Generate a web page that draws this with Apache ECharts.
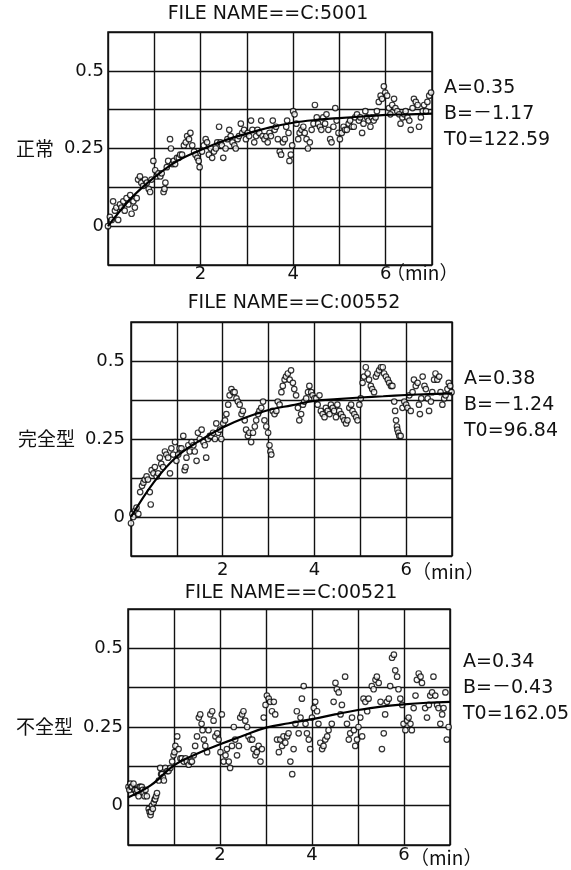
<!DOCTYPE html>
<html>
<head>
<meta charset="utf-8">
<script src="https://cdn.jsdelivr.net/npm/echarts@6/dist/echarts.min.js"></script>
<style>
html,body{margin:0;padding:0;background:#fff;}
#chart{width:571px;height:870px;}
</style>
</head>
<body>
<div id="chart"></div>
<script>
// fitted curve sample times (min)
var fitTimes = [0,0.5,1,1.5,2,2.5,3,3.5,4,4.5,5,5.5,6,6.5,7];

// 正常 FILE NAME==C:5001  [min, value]
var normalPts = [[0.00,0.00],[0.04,0.03],[0.08,0.02],[0.11,0.08],[0.15,0.05],[0.18,0.06],[0.22,0.02],[0.26,0.07],[0.29,0.06],[0.33,0.08],[0.36,0.05],[0.40,0.09],[0.44,0.07],[0.48,0.10],[0.51,0.04],[0.55,0.08],[0.58,0.06],[0.62,0.09],[0.65,0.15],[0.69,0.16],[0.72,0.14],[0.76,0.13],[0.80,0.15],[0.84,0.14],[0.88,0.12],[0.91,0.11],[0.94,0.15],[0.98,0.21],[1.02,0.18],[1.05,0.16],[1.09,0.17],[1.13,0.16],[1.16,0.17],[1.20,0.11],[1.22,0.12],[1.24,0.14],[1.27,0.19],[1.30,0.21],[1.34,0.28],[1.36,0.25],[1.39,0.20],[1.42,0.21],[1.45,0.20],[1.49,0.22],[1.53,0.22],[1.56,0.23],[1.60,0.23],[1.64,0.26],[1.68,0.27],[1.71,0.29],[1.75,0.28],[1.78,0.30],[1.82,0.26],[1.86,0.24],[1.89,0.23],[1.93,0.22],[1.96,0.21],[1.98,0.19],[2.03,0.24],[2.07,0.26],[2.11,0.28],[2.14,0.27],[2.18,0.23],[2.22,0.25],[2.25,0.22],[2.29,0.24],[2.33,0.25],[2.36,0.27],[2.40,0.32],[2.43,0.27],[2.46,0.26],[2.49,0.22],[2.54,0.25],[2.58,0.28],[2.62,0.31],[2.65,0.29],[2.69,0.27],[2.73,0.26],[2.76,0.25],[2.80,0.28],[2.83,0.29],[2.87,0.33],[2.90,0.30],[2.94,0.31],[2.98,0.28],[3.02,0.30],[3.05,0.29],[3.09,0.34],[3.12,0.31],[3.16,0.27],[3.20,0.29],[3.23,0.31],[3.27,0.30],[3.31,0.34],[3.34,0.29],[3.38,0.28],[3.42,0.29],[3.45,0.27],[3.49,0.30],[3.52,0.29],[3.56,0.34],[3.60,0.31],[3.63,0.32],[3.67,0.28],[3.71,0.24],[3.74,0.23],[3.78,0.27],[3.82,0.28],[3.85,0.32],[3.87,0.34],[3.90,0.30],[3.92,0.21],[3.95,0.23],[3.98,0.26],[4.00,0.37],[4.03,0.36],[4.07,0.33],[4.11,0.28],[4.14,0.30],[4.18,0.31],[4.22,0.32],[4.25,0.30],[4.29,0.28],[4.32,0.25],[4.36,0.27],[4.40,0.31],[4.44,0.33],[4.47,0.39],[4.51,0.35],[4.54,0.33],[4.58,0.32],[4.61,0.31],[4.65,0.35],[4.69,0.33],[4.72,0.36],[4.76,0.31],[4.80,0.28],[4.83,0.27],[4.87,0.32],[4.91,0.38],[4.94,0.34],[4.98,0.30],[5.01,0.28],[5.05,0.30],[5.09,0.32],[5.12,0.31],[5.16,0.31],[5.20,0.33],[5.23,0.34],[5.27,0.32],[5.31,0.32],[5.34,0.35],[5.38,0.36],[5.42,0.34],[5.45,0.35],[5.49,0.30],[5.52,0.33],[5.56,0.37],[5.60,0.35],[5.63,0.34],[5.67,0.32],[5.70,0.35],[5.74,0.34],[5.78,0.35],[5.81,0.37],[5.85,0.40],[5.89,0.42],[5.92,0.41],[5.96,0.45],[5.99,0.43],[6.03,0.42],[6.07,0.38],[6.10,0.36],[6.14,0.39],[6.18,0.41],[6.21,0.38],[6.25,0.37],[6.29,0.36],[6.32,0.33],[6.36,0.35],[6.40,0.36],[6.43,0.37],[6.47,0.35],[6.51,0.34],[6.54,0.31],[6.58,0.38],[6.61,0.41],[6.65,0.40],[6.69,0.39],[6.72,0.32],[6.76,0.35],[6.80,0.37],[6.83,0.39],[6.87,0.37],[6.90,0.40],[6.94,0.42],[6.98,0.43]];
var normalFit = [0,0.09,0.157,0.21,0.245,0.275,0.298,0.318,0.333,0.342,0.348,0.353,0.358,0.36,0.362];

// 完全型 FILE NAME==C:00552
var completePts = [[0.00,-0.02],[0.03,0.01],[0.05,0.00],[0.09,0.02],[0.12,0.03],[0.16,0.01],[0.20,0.08],[0.24,0.10],[0.27,0.11],[0.30,0.12],[0.34,0.13],[0.37,0.12],[0.41,0.08],[0.43,0.04],[0.45,0.15],[0.49,0.14],[0.52,0.16],[0.56,0.13],[0.59,0.14],[0.63,0.19],[0.66,0.17],[0.70,0.16],[0.74,0.21],[0.77,0.20],[0.81,0.19],[0.85,0.14],[0.88,0.22],[0.92,0.20],[0.96,0.24],[0.99,0.18],[1.03,0.20],[1.06,0.22],[1.10,0.22],[1.14,0.26],[1.17,0.15],[1.19,0.16],[1.21,0.19],[1.25,0.23],[1.28,0.21],[1.32,0.24],[1.36,0.23],[1.39,0.21],[1.43,0.18],[1.46,0.27],[1.50,0.25],[1.54,0.28],[1.58,0.24],[1.61,0.23],[1.64,0.19],[1.68,0.25],[1.72,0.26],[1.75,0.26],[1.79,0.27],[1.83,0.25],[1.86,0.30],[1.90,0.27],[1.94,0.28],[1.97,0.25],[2.01,0.30],[2.05,0.31],[2.08,0.33],[2.12,0.36],[2.15,0.39],[2.19,0.41],[2.23,0.40],[2.26,0.40],[2.30,0.38],[2.33,0.37],[2.37,0.36],[2.41,0.33],[2.44,0.34],[2.48,0.31],[2.51,0.28],[2.55,0.26],[2.58,0.27],[2.62,0.24],[2.66,0.27],[2.70,0.29],[2.73,0.31],[2.77,0.33],[2.80,0.34],[2.84,0.35],[2.88,0.37],[2.91,0.31],[2.95,0.29],[2.99,0.27],[3.02,0.23],[3.04,0.21],[3.06,0.20],[3.09,0.34],[3.13,0.33],[3.17,0.34],[3.20,0.37],[3.24,0.36],[3.28,0.40],[3.31,0.42],[3.35,0.44],[3.38,0.45],[3.42,0.46],[3.46,0.44],[3.49,0.47],[3.53,0.43],[3.56,0.41],[3.60,0.39],[3.64,0.35],[3.67,0.31],[3.71,0.33],[3.75,0.36],[3.78,0.37],[3.82,0.38],[3.86,0.40],[3.89,0.42],[3.93,0.40],[3.96,0.39],[4.00,0.38],[4.04,0.38],[4.07,0.36],[4.11,0.39],[4.14,0.34],[4.18,0.33],[4.22,0.32],[4.25,0.35],[4.29,0.34],[4.33,0.33],[4.36,0.36],[4.40,0.35],[4.43,0.34],[4.47,0.32],[4.50,0.36],[4.54,0.34],[4.58,0.33],[4.62,0.32],[4.65,0.31],[4.69,0.30],[4.72,0.31],[4.76,0.35],[4.80,0.36],[4.83,0.34],[4.87,0.33],[4.91,0.32],[4.94,0.31],[4.98,0.36],[5.01,0.38],[5.05,0.43],[5.08,0.45],[5.12,0.48],[5.16,0.46],[5.19,0.44],[5.23,0.42],[5.26,0.41],[5.30,0.40],[5.34,0.45],[5.37,0.46],[5.41,0.47],[5.45,0.48],[5.49,0.48],[5.52,0.46],[5.56,0.45],[5.60,0.44],[5.63,0.43],[5.67,0.42],[5.70,0.42],[5.74,0.37],[5.76,0.34],[5.78,0.31],[5.80,0.29],[5.81,0.28],[5.83,0.27],[5.85,0.26],[5.88,0.26],[5.92,0.35],[5.96,0.37],[6.00,0.36],[6.03,0.35],[6.07,0.39],[6.10,0.34],[6.14,0.40],[6.17,0.44],[6.21,0.42],[6.25,0.43],[6.28,0.36],[6.30,0.33],[6.33,0.38],[6.36,0.45],[6.40,0.42],[6.43,0.41],[6.47,0.38],[6.50,0.34],[6.54,0.37],[6.57,0.40],[6.61,0.44],[6.64,0.46],[6.68,0.44],[6.72,0.45],[6.75,0.40],[6.79,0.36],[6.83,0.38],[6.86,0.39],[6.90,0.41],[6.93,0.43],[6.96,0.42],[6.99,0.40]];
var completeFit = [0,0.112,0.194,0.245,0.287,0.319,0.343,0.358,0.372,0.378,0.383,0.387,0.391,0.394,0.396];

// 不全型 FILE NAME==C:00521
var incompletePts = [[0.01,0.06],[0.03,0.05],[0.05,0.07],[0.07,0.06],[0.09,0.06],[0.12,0.07],[0.14,0.05],[0.16,0.05],[0.18,0.04],[0.20,0.05],[0.23,0.03],[0.25,0.06],[0.27,0.06],[0.30,0.06],[0.32,0.05],[0.34,0.04],[0.36,0.03],[0.38,0.05],[0.41,0.03],[0.45,-0.01],[0.47,-0.02],[0.49,-0.03],[0.50,-0.02],[0.52,0.00],[0.54,-0.01],[0.56,0.01],[0.58,0.02],[0.59,0.02],[0.61,0.03],[0.63,0.04],[0.67,0.08],[0.70,0.12],[0.72,0.10],[0.74,0.10],[0.76,0.09],[0.78,0.08],[0.81,0.12],[0.85,0.11],[0.88,0.11],[0.92,0.12],[0.96,0.14],[0.99,0.16],[1.01,0.17],[1.03,0.19],[1.07,0.22],[1.10,0.18],[1.14,0.15],[1.17,0.15],[1.21,0.14],[1.25,0.15],[1.28,0.14],[1.32,0.13],[1.36,0.14],[1.39,0.14],[1.43,0.16],[1.46,0.19],[1.50,0.22],[1.54,0.28],[1.57,0.29],[1.60,0.26],[1.62,0.24],[1.65,0.21],[1.68,0.19],[1.72,0.17],[1.75,0.24],[1.79,0.29],[1.83,0.30],[1.86,0.27],[1.90,0.22],[1.94,0.23],[1.97,0.21],[2.01,0.17],[2.04,0.29],[2.08,0.14],[2.12,0.16],[2.15,0.18],[2.19,0.14],[2.22,0.12],[2.26,0.19],[2.30,0.25],[2.33,0.21],[2.37,0.16],[2.41,0.19],[2.44,0.28],[2.48,0.29],[2.51,0.30],[2.55,0.27],[2.59,0.25],[2.62,0.22],[2.66,0.21],[2.70,0.21],[2.73,0.18],[2.77,0.16],[2.80,0.17],[2.84,0.19],[2.88,0.14],[2.91,0.18],[2.95,0.28],[2.99,0.32],[3.02,0.35],[3.06,0.34],[3.09,0.33],[3.13,0.30],[3.17,0.33],[3.20,0.29],[3.24,0.21],[3.28,0.17],[3.31,0.21],[3.35,0.19],[3.38,0.22],[3.42,0.20],[3.46,0.22],[3.49,0.23],[3.53,0.14],[3.57,0.10],[3.60,0.18],[3.64,0.26],[3.67,0.30],[3.71,0.23],[3.75,0.28],[3.78,0.34],[3.82,0.38],[3.86,0.26],[3.89,0.23],[3.93,0.21],[3.96,0.18],[4.00,0.28],[4.04,0.31],[4.07,0.33],[4.11,0.30],[4.14,0.26],[4.18,0.20],[4.22,0.18],[4.25,0.19],[4.29,0.21],[4.33,0.22],[4.36,0.24],[4.43,0.26],[4.47,0.33],[4.51,0.39],[4.54,0.37],[4.58,0.36],[4.62,0.29],[4.65,0.32],[4.72,0.41],[4.76,0.26],[4.80,0.21],[4.83,0.23],[4.87,0.28],[4.91,0.24],[4.94,0.19],[4.98,0.21],[5.01,0.25],[5.05,0.28],[5.09,0.22],[5.12,0.34],[5.16,0.33],[5.20,0.30],[5.23,0.34],[5.30,0.38],[5.34,0.37],[5.38,0.40],[5.41,0.41],[5.45,0.39],[5.49,0.33],[5.52,0.18],[5.56,0.23],[5.59,0.29],[5.63,0.33],[5.67,0.34],[5.70,0.38],[5.74,0.47],[5.78,0.48],[5.81,0.43],[5.85,0.41],[5.88,0.37],[5.92,0.34],[5.96,0.32],[5.99,0.26],[6.03,0.24],[6.07,0.27],[6.10,0.28],[6.14,0.26],[6.17,0.24],[6.21,0.31],[6.25,0.35],[6.28,0.40],[6.32,0.42],[6.36,0.41],[6.39,0.39],[6.46,0.31],[6.50,0.28],[6.54,0.32],[6.57,0.35],[6.61,0.36],[6.64,0.41],[6.68,0.35],[6.72,0.32],[6.75,0.31],[6.79,0.26],[6.83,0.29],[6.86,0.31],[6.90,0.36],[6.93,0.21],[6.97,0.25]];
var incompleteFit = [0.026,0.065,0.128,0.165,0.195,0.222,0.248,0.262,0.275,0.29,0.304,0.315,0.322,0.327,0.33];

var fileNames = ['FILE NAME==C:5001','FILE NAME==C:00552','FILE NAME==C:00521'];
var typeNames = ['正常','完全型','不全型'];
var paramA = ['A=0.35','A=0.38','A=0.34'];
var paramB = ['B=－1.17','B=－1.24','B=－0.43'];
var paramT0 = ['T0=122.59','T0=96.84','T0=162.05'];
var xTickLabels = [2,4,6];
var unitLabel = '（min）';

var allPts = [normalPts, completePts, incompletePts];
var allFits = [normalFit, completeFit, incompleteFit];

// layout of the three panels (px)
var boxes = [
	{left:108, top:32,  width:324, height:233, titleX:268, titleY:14,  noteX:444, noteY:88,  unitX:386, unitY:273, xMargin:0, yMargin:4},
	{left:131, top:322, width:321, height:234, titleX:294, titleY:303, noteX:464, noteY:379, unitX:412, unitY:572, xMargin:5, yMargin:6},
	{left:128, top:609, width:322, height:236, titleX:291, titleY:593, noteX:463, noteY:662, unitX:410, unitY:858, xMargin:1, yMargin:5}
];

var numFont = 'DejaVu Sans';
var cjkFont = 'Noto Sans CJK JP';
var ink = '#111';

var chart = echarts.init(document.getElementById('chart'));

var grids = [], xAxes = [], yAxes = [], series = [], graphics = [];

boxes.forEach(function(b, i){
	grids.push({left:b.left, top:b.top, width:b.width, height:b.height,
		show:true, borderColor:ink, borderWidth:1.5, backgroundColor:'#fff'});

	xAxes.push({
		type:'value', gridIndex:i, min:0, max:7, interval:1,
		axisLine:{show:false}, axisTick:{show:false},
		splitLine:{show:true, lineStyle:{color:ink, width:1.4}},
		axisLabel:{
			margin:b.xMargin, color:ink, fontFamily:numFont, fontSize:18,
			formatter:function(v){ return xTickLabels.indexOf(Math.round(v*1000)/1000) >= 0 ? String(v) : ''; }
		}
	});

	var name = typeNames[i];
	yAxes.push({
		type:'value', gridIndex:i, min:-0.125, max:0.625, interval:0.125,
		axisLine:{show:false}, axisTick:{show:false},
		splitLine:{show:true, lineStyle:{color:ink, width:1.4}},
		axisLabel:{
			margin:b.yMargin, color:ink, fontFamily:numFont, fontSize:18,
			formatter:function(v){
				if (Math.abs(v-0.5) < 1e-6) return '0.5';
				if (Math.abs(v-0.25) < 1e-6) return '{c|' + name + '}0.25';
				if (Math.abs(v) < 1e-6) return '0';
				return '';
			},
			rich:{ c:{fontFamily:cjkFont, fontSize:19, color:ink, padding:[0,10,0,0]} }
		}
	});

	series.push({
		type:'scatter', xAxisIndex:i, yAxisIndex:i,
		data:allPts[i], symbol:'circle', symbolSize:5.5,
		itemStyle:{color:'#fff', borderColor:'#000', borderWidth:1.2},
		silent:true, z:2
	});
	series.push({
		type:'line', xAxisIndex:i, yAxisIndex:i,
		data:fitTimes.map(function(t, k){ return [t, allFits[i][k]]; }),
		smooth:0.4, showSymbol:false,
		lineStyle:{color:'#000', width:2.2},
		silent:true, z:3
	});

	// titles and annotations
	graphics.push({type:'text', x:b.titleX, y:b.titleY,
		style:{text:fileNames[i], fill:ink, font:'19px "DejaVu Sans"', align:'center', verticalAlign:'middle'}});
	[paramA[i], paramB[i], paramT0[i]].forEach(function(t, k){
		graphics.push({type:'text', x:b.noteX, y:b.noteY + k*26,
			style:{text:t, fill:ink, font:'19px "DejaVu Sans", "Noto Sans CJK JP"', align:'left', verticalAlign:'middle'}});
	});
	graphics.push({type:'text', x:b.unitX, y:b.unitY,
		style:{text:unitLabel, fill:ink, font:'19px "Noto Sans CJK JP"', align:'left', verticalAlign:'middle'}});
});

var option = {
	backgroundColor:'#fff',
	animation:false,
	grid:grids,
	xAxis:xAxes,
	yAxis:yAxes,
	series:series,
	graphic:graphics
};
chart.setOption(option);
</script>
</body>
</html>
